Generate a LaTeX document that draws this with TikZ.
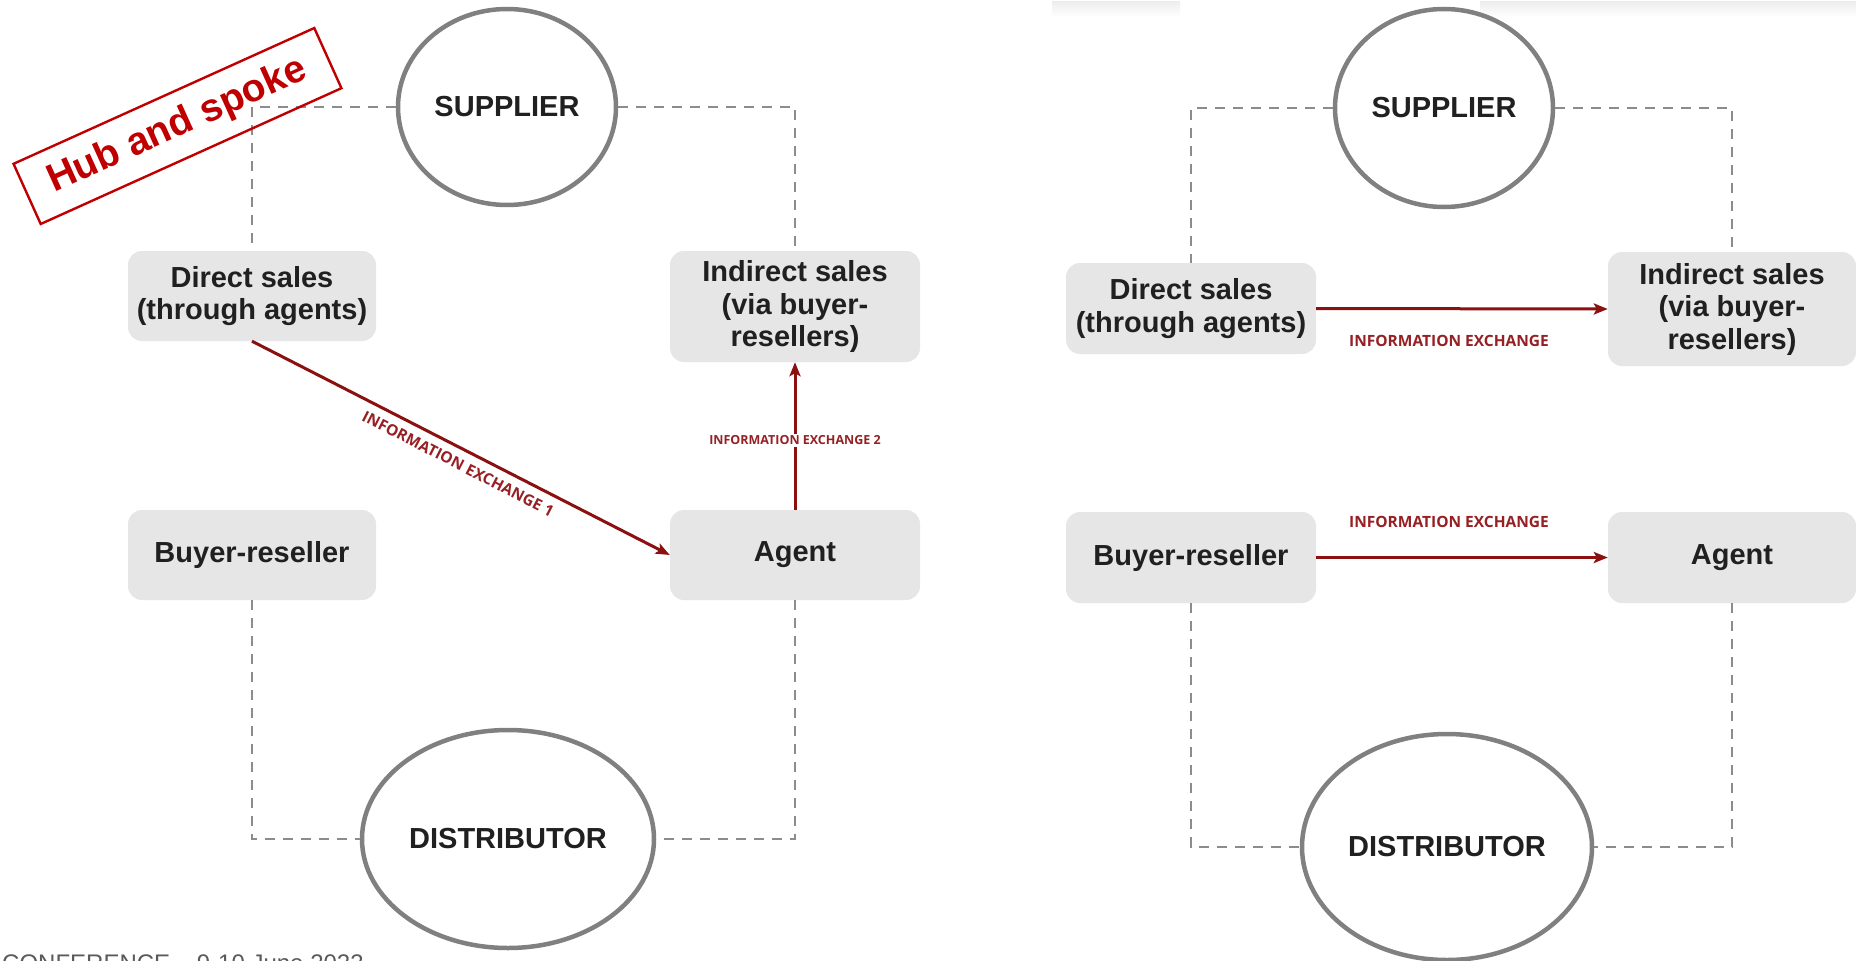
\documentclass[tikz,border=0pt]{standalone}
\usepackage{fontspec}
\setmainfont{Liberation Sans}
\newfontfamily\labfont{Open Sans}
\usetikzlibrary{arrows.meta,shapes.geometric}
\definecolor{boxgray}{RGB}{230,230,230}
\definecolor{txtc}{RGB}{32,32,32}
\definecolor{ringgray}{RGB}{128,128,128}
\definecolor{dashgray}{RGB}{140,140,140}
\definecolor{infored}{RGB}{139,16,16}
\definecolor{labred}{RGB}{150,32,36}
\definecolor{stampred}{RGB}{192,0,0}
\definecolor{confgray}{RGB}{90,90,90}
\begin{document}
\begin{tikzpicture}[x=1pt,y=-1pt,
  box/.style={fill=boxgray, rounded corners=14pt, text=txtc, font=\fontsize{29}{32.5}\selectfont\bfseries, align=center, inner sep=0pt},
  hub/.style={ellipse, draw=ringgray, line width=4.5pt, fill=white, text=txtc, font=\fontsize{29}{32}\selectfont\bfseries, inner sep=0pt},
  link/.style={draw=dashgray, line width=2pt, dash pattern=on 10pt off 8pt},
  info/.style={draw=infored, line width=3pt, -{Stealth[length=14pt,width=11pt,inset=3pt]}},
  infolab/.style={text=labred, inner sep=0pt, font=\labfont\bfseries\fontsize{15.5}{18}\selectfont},
  smalllab/.style={text=labred, fill=white, inner sep=2pt, font=\labfont\bfseries\fontsize{12.5}{15}\selectfont},
  stamp/.style={draw=stampred, line width=2.4pt, text=stampred, font=\fontsize{39}{40}\selectfont\bfseries, inner sep=0pt}
]
\useasboundingbox (0,0) rectangle (1856,961);
\clip (0,0) rectangle (1856,961);
\fill[white] (0,0) rectangle (1856,961);
% faint shadows at top right
\shade[top color=black!7, bottom color=white] (1052,1) rectangle (1180,17);
\shade[top color=black!7, bottom color=white] (1480,1) rectangle (1856,17);

% ---------- left diagram ----------
\node[hub, minimum width=218pt, minimum height=196pt] (sup1) at (507,107) {SUPPLIER};
\node[hub, minimum width=292pt, minimum height=218pt] (dist1) at (508,839) {DISTRIBUTOR};
\node[box, minimum width=248pt, minimum height=90pt] (ds1) at (252,296) {Direct sales\\(through agents)};
\node[box, minimum width=250pt, minimum height=111pt] (is1) at (795,306.5) {Indirect sales\\(via buyer-\\resellers)};
\node[box, minimum width=248pt, minimum height=90pt] (br1) at (252,555) {Buyer-reseller};
\node[box, minimum width=250pt, minimum height=90pt] (ag1) at (795,555) {Agent};

\draw[link] (sup1.west) -| (ds1.north);
\draw[link] (sup1.east) -| (is1.north);
\draw[link] (br1.south) |- (dist1.west);
\draw[link] (ag1.south) |- (dist1.east);

\draw[info] (ds1.south) -- node[infolab, sloped, below=8pt, pos=0.51] {INFORMATION EXCHANGE 1} (ag1.west);
\draw[info] (ag1.north) -- node[smalllab, pos=0.47] {INFORMATION EXCHANGE 2} (is1.south);

\node[stamp, rotate=24.3, minimum width=330pt, minimum height=66pt] (stamp) at (177.5,126) {Hub and spoke};

% ---------- right diagram ----------
\node[hub, minimum width=218pt, minimum height=198pt] (sup2) at (1444,108) {SUPPLIER};
\node[hub, minimum width=290pt, minimum height=226pt] (dist2) at (1447,847) {DISTRIBUTOR};
\node[box, minimum width=250pt, minimum height=91pt] (ds2) at (1191,308.5) {Direct sales\\(through agents)};
\node[box, minimum width=248pt, minimum height=114pt] (is2) at (1732,309) {Indirect sales\\(via buyer-\\resellers)};
\node[box, minimum width=250pt, minimum height=91pt] (br2) at (1191,557.5) {Buyer-reseller};
\node[box, minimum width=248pt, minimum height=91pt] (ag2) at (1732,557.5) {Agent};

\draw[link] (sup2.west) -| (ds2.north);
\draw[link] (sup2.east) -| (is2.north);
\draw[link] (br2.south) |- (dist2.west);
\draw[link] (ag2.south) |- (dist2.east);

\draw[info] (ds2.east) -- node[infolab, below=25pt, xshift=-13pt] {INFORMATION EXCHANGE} (is2.west);
\draw[info] (br2.east) -- node[infolab, above=28pt, xshift=-13pt] {INFORMATION EXCHANGE} (ag2.west);

% footer, cut by the page edge
\node[anchor=base west, inner sep=0pt, text=confgray, font=\fontsize{24}{24}\selectfont] (conf) at (2,971) {CONFERENCE – 9-10 June 2023};
\end{tikzpicture}
\end{document}
